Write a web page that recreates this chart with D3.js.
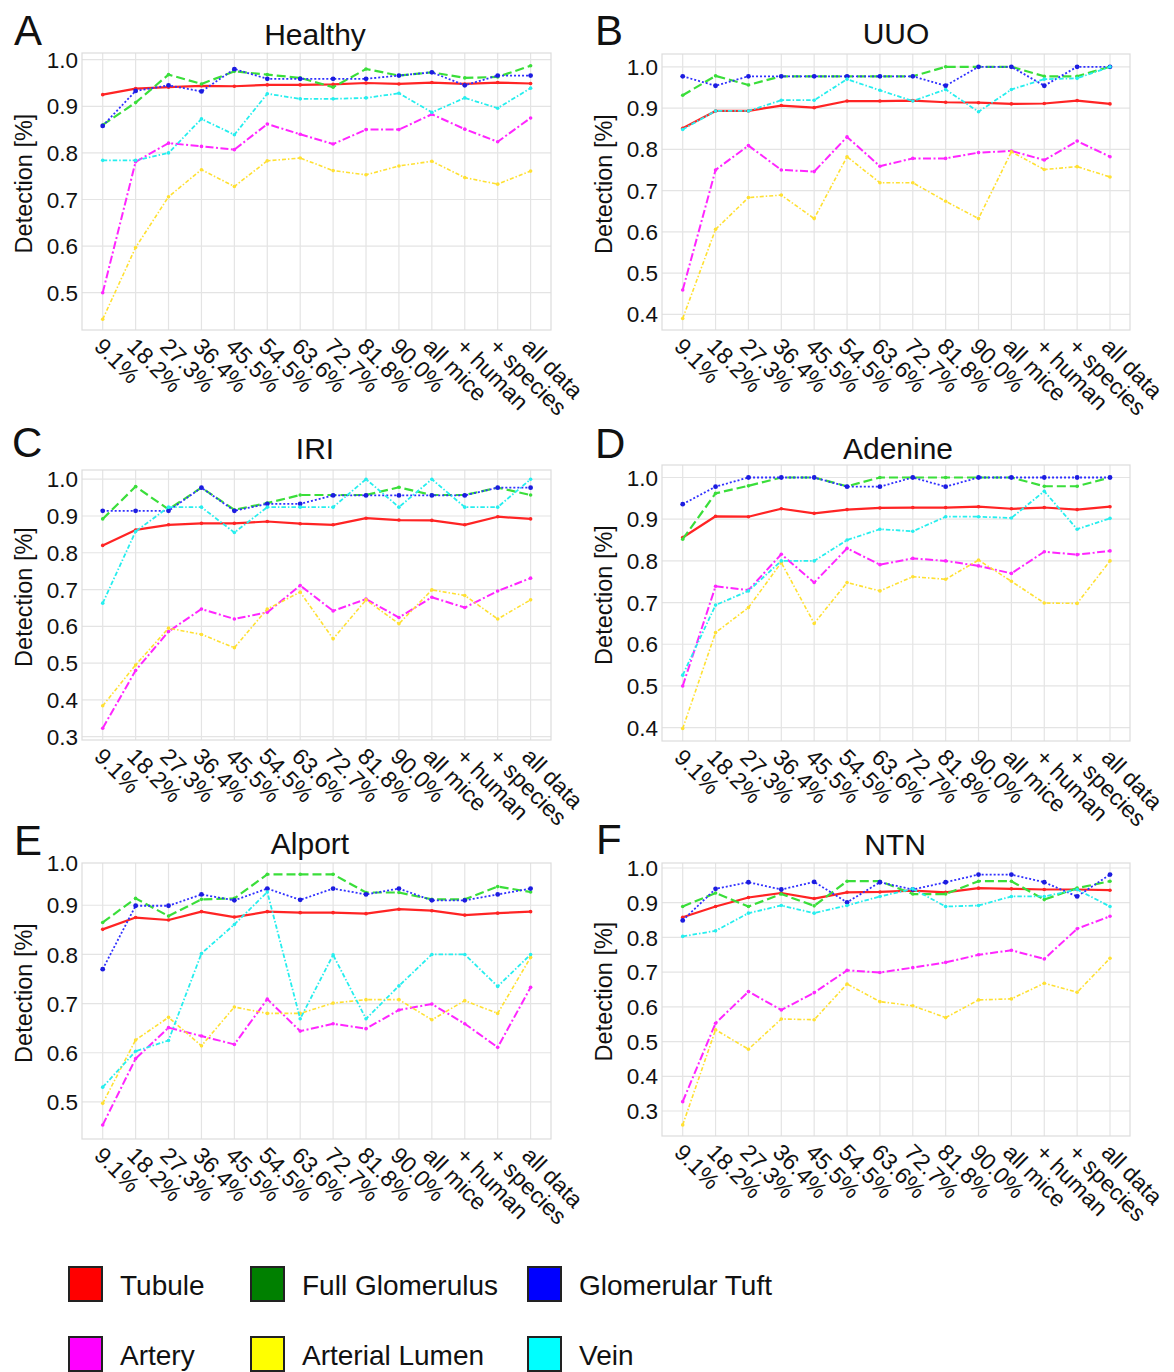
<!DOCTYPE html>
<html><head><meta charset="utf-8">
<script src="https://cdn.jsdelivr.net/npm/d3@7"></script>
<style>
html,body{margin:0;padding:0;background:#fff;}
text{font-family:Arial,"Liberation Sans",sans-serif;fill:#111;}
</style></head>
<body>
<svg id="c" width="1174" height="1372"></svg>
<script>
const categories = ["9.1%","18.2%","27.3%","36.4%","45.5%","54.5%","63.6%","72.7%","81.8%","90.0%","all mice","+ human","+ species","all data"];
const seriesNames = ["Tubule","Full Glomerulus","Glomerular Tuft","Artery","Arterial Lumen","Vein"];
const lineColors = ["#ff2424","#3ade3a","#3030ff","#ff26ff","#ffe032","#26eeee"];
const legendColors = ["#ff0000","#008000","#0000ff","#ff00ff","#ffff00","#00ffff"];

// rows: Tubule, Full Glomerulus, Glomerular Tuft, Artery, Arterial Lumen, Vein
const healthy = [
 [0.925,0.938,0.941,0.944,0.943,0.946,0.946,0.947,0.950,0.948,0.951,0.948,0.951,0.949],
 [0.860,0.908,0.968,0.948,0.975,0.968,0.961,0.941,0.980,0.966,0.973,0.961,0.963,0.987],
 [0.858,0.933,0.945,0.932,0.980,0.959,0.959,0.959,0.959,0.966,0.973,0.945,0.966,0.966],
 [0.500,0.781,0.821,0.814,0.807,0.862,0.840,0.819,0.850,0.850,0.883,0.851,0.824,0.875],
 [0.443,0.597,0.706,0.764,0.728,0.783,0.789,0.762,0.753,0.772,0.782,0.747,0.733,0.761],
 [0.784,0.784,0.800,0.873,0.839,0.927,0.916,0.916,0.918,0.928,0.887,0.918,0.896,0.939]];
const uuo = [
 [0.851,0.893,0.893,0.906,0.901,0.917,0.917,0.918,0.914,0.913,0.910,0.911,0.918,0.910],
 [0.931,0.978,0.956,0.977,0.977,0.977,0.977,0.977,1.000,1.000,1.000,0.977,0.977,1.000],
 [0.977,0.954,0.977,0.977,0.977,0.977,0.977,0.977,0.954,1.000,1.000,0.954,1.000,1.000],
 [0.459,0.750,0.809,0.750,0.746,0.830,0.759,0.778,0.778,0.792,0.796,0.774,0.820,0.782],
 [0.390,0.606,0.683,0.689,0.632,0.782,0.719,0.719,0.674,0.632,0.794,0.751,0.758,0.733],
 [0.848,0.893,0.893,0.919,0.919,0.970,0.943,0.917,0.945,0.891,0.945,0.970,0.972,1.000]];
const iri = [
 [0.820,0.862,0.876,0.880,0.880,0.885,0.879,0.876,0.894,0.889,0.888,0.876,0.898,0.892],
 [0.892,0.980,0.918,0.977,0.917,0.935,0.957,0.957,0.957,0.978,0.957,0.957,0.977,0.957],
 [0.914,0.914,0.914,0.977,0.914,0.933,0.933,0.956,0.956,0.956,0.956,0.956,0.977,0.977],
 [0.323,0.480,0.586,0.647,0.620,0.638,0.711,0.642,0.674,0.624,0.679,0.651,0.696,0.731],
 [0.384,0.495,0.595,0.578,0.542,0.647,0.693,0.566,0.672,0.607,0.699,0.684,0.620,0.672],
 [0.663,0.858,0.924,0.924,0.855,0.924,0.924,0.924,1.000,0.924,1.000,0.924,0.924,1.000]];
const adenine = [
 [0.856,0.907,0.906,0.925,0.914,0.923,0.927,0.928,0.928,0.930,0.925,0.928,0.923,0.930],
 [0.852,0.962,0.980,1.000,1.000,0.979,1.000,1.000,1.000,1.000,1.000,0.979,0.979,1.000],
 [0.936,0.978,1.000,1.000,1.000,0.978,0.978,1.000,0.978,1.000,1.000,1.000,1.000,1.000],
 [0.500,0.739,0.730,0.816,0.748,0.830,0.791,0.806,0.800,0.788,0.770,0.822,0.815,0.824],
 [0.398,0.628,0.688,0.796,0.650,0.748,0.728,0.762,0.756,0.802,0.751,0.699,0.698,0.800],
 [0.526,0.694,0.728,0.800,0.800,0.850,0.876,0.871,0.906,0.906,0.903,0.967,0.876,0.902]];
const alport = [
 [0.851,0.875,0.870,0.887,0.876,0.887,0.885,0.885,0.883,0.892,0.889,0.880,0.884,0.887],
 [0.865,0.914,0.878,0.912,0.914,0.963,0.963,0.963,0.926,0.926,0.912,0.912,0.938,0.927],
 [0.770,0.899,0.899,0.922,0.910,0.934,0.911,0.934,0.922,0.934,0.910,0.910,0.922,0.934],
 [0.453,0.588,0.651,0.634,0.617,0.709,0.644,0.659,0.649,0.687,0.699,0.659,0.611,0.733],
 [0.497,0.626,0.672,0.614,0.693,0.680,0.680,0.701,0.708,0.708,0.667,0.706,0.680,0.794],
 [0.530,0.603,0.625,0.802,0.861,0.927,0.669,0.799,0.669,0.736,0.800,0.800,0.735,0.800]];
const ntn = [
 [0.858,0.889,0.915,0.928,0.912,0.930,0.931,0.935,0.930,0.942,0.940,0.938,0.938,0.936],
 [0.889,0.928,0.889,0.925,0.891,0.962,0.962,0.925,0.925,0.962,0.962,0.909,0.942,0.962],
 [0.849,0.940,0.959,0.938,0.960,0.901,0.959,0.938,0.959,0.981,0.981,0.959,0.918,0.981],
 [0.327,0.553,0.644,0.591,0.641,0.705,0.699,0.713,0.728,0.750,0.763,0.738,0.825,0.861],
 [0.260,0.534,0.478,0.565,0.563,0.666,0.615,0.603,0.569,0.620,0.623,0.668,0.642,0.740],
 [0.803,0.819,0.870,0.892,0.870,0.892,0.918,0.940,0.889,0.892,0.918,0.918,0.938,0.889]];

const ticksA = [0.5,0.6,0.7,0.8,0.9,1.0];
const ticksB = [0.4,0.5,0.6,0.7,0.8,0.9,1.0];
const ticksC = [0.3,0.4,0.5,0.6,0.7,0.8,0.9,1.0];

// layout (positions only)
const panels = [
 {letter:"A", title:"Healthy", data:healthy, ticks:ticksA, dom:[0.420,1.0144], col:0, y0:53, y1:330, lx:14, ly:45, tx:315, ty:45},
 {letter:"B", title:"UUO", data:uuo, ticks:ticksB, dom:[0.362,1.031], col:1, y0:54, y1:330, lx:595, ly:45, tx:896, ty:44},
 {letter:"C", title:"IRI", data:iri, ticks:ticksC, dom:[0.291,1.025], col:0, y0:470, y1:740, lx:12, ly:457, tx:315, ty:459},
 {letter:"D", title:"Adenine", data:adenine, ticks:ticksB, dom:[0.368,1.030], col:1, y0:465, y1:741, lx:595, ly:458, tx:898, ty:459},
 {letter:"E", title:"Alport", data:alport, ticks:ticksA, dom:[0.4245,0.986], col:0, y0:863, y1:1139, lx:14, ly:855, tx:310, ty:854},
 {letter:"F", title:"NTN", data:ntn, ticks:ticksC, dom:[0.228,1.0144], col:1, y0:863, y1:1136, lx:596, ly:854, tx:895, ty:855}
];
const cols = [{x0:82, x1:551, p0:102.7, p1:530.6},{x0:662, x1:1130, p0:682.7, p1:1110}];
const dashes = [null,"9,4","2,2","8,2.5,2,2.5","4,2,1.5,2","4.5,2,1.5,2"];
const widths = [2.2,2.2,1.8,2,1.6,1.8];

const svg = d3.select("#c");

panels.forEach(p => {
  const c = cols[p.col];
  const x = d3.scalePoint().domain(categories).range([c.p0, c.p1]);
  const y = d3.scaleLinear().domain(p.dom).range([p.y1, p.y0]);
  const g = svg.append("g");
  const yy = v => Math.max(p.y0, y(v));

  // grid
  g.selectAll(".vg").data(categories).enter().append("line")
    .attr("x1", d => x(d)).attr("x2", d => x(d)).attr("y1", p.y0).attr("y2", p.y1)
    .attr("stroke", "#e4e4e4").attr("stroke-width", 1.2);
  g.selectAll(".hg").data(p.ticks.filter(t => y(t) >= p.y0 - 0.5)).enter().append("line")
    .attr("x1", c.x0).attr("x2", c.x1).attr("y1", d => y(d)).attr("y2", d => y(d))
    .attr("stroke", "#e4e4e4").attr("stroke-width", 1.2);
  g.append("rect").attr("x", c.x0).attr("y", p.y0).attr("width", c.x1 - c.x0).attr("height", p.y1 - p.y0)
    .attr("fill", "none").attr("stroke", "#dcdcdc").attr("stroke-width", 1.2);

  // y tick labels
  g.selectAll(".yt").data(p.ticks).enter().append("text")
    .attr("x", c.x0 - 4).attr("y", d => yy(d)).attr("dy", "0.36em")
    .attr("text-anchor", "end").attr("font-size", 22.5).text(d => d3.format(".1f")(d));

  // x tick labels
  g.selectAll(".xt").data(categories).enter().append("text")
    .attr("transform", d => `translate(${x(d)},${p.y1 + 8}) rotate(45)`)
    .attr("dy", "0.6em").attr("text-anchor", "start").attr("font-size", 23).text(d => d);

  // axis title
  g.append("text")
    .attr("transform", `translate(${c.x0 - 50},${(p.y0 + p.y1) / 2 - 8}) rotate(-90)`)
    .attr("text-anchor", "middle").attr("font-size", 23.5).text("Detection [%]");

  // title & letter
  g.append("text").attr("x", p.tx).attr("y", p.ty).attr("text-anchor", "middle").attr("font-size", 30).text(p.title);
  g.append("text").attr("x", p.lx).attr("y", p.ly).attr("font-size", 42).text(p.letter);

  // lines
  const line = d3.line().x((d, i) => x(categories[i])).y(d => y(d));
  p.data.forEach((vals, si) => {
    g.append("path").datum(vals).attr("d", line)
      .attr("fill", "none").attr("stroke", lineColors[si]).attr("stroke-width", widths[si])
      .attr("stroke-dasharray", dashes[si]).attr("stroke-linejoin", "round");
    g.selectAll(null).data(vals).enter().append("circle")
      .attr("cx", (d, i) => x(categories[i])).attr("cy", d => y(d))
      .attr("r", si === 2 ? 2.4 : 1.8)
      .attr("fill", si === 2 ? "#1c1ce0" : lineColors[si]);
  });
});

// legend
const legX = [69, 251, 528];
const legY = [1267, 1337];
seriesNames.forEach((n, i) => {
  const cx = legX[i % 3], cy = legY[Math.floor(i / 3)];
  svg.append("rect").attr("x", cx).attr("y", cy).attr("width", 33).attr("height", 34)
    .attr("fill", legendColors[i]).attr("stroke", "#222").attr("stroke-width", 2);
  svg.append("text").attr("x", cx + 51).attr("y", cy + 28).attr("font-size", 28).text(n);
});
</script>
</body></html>
